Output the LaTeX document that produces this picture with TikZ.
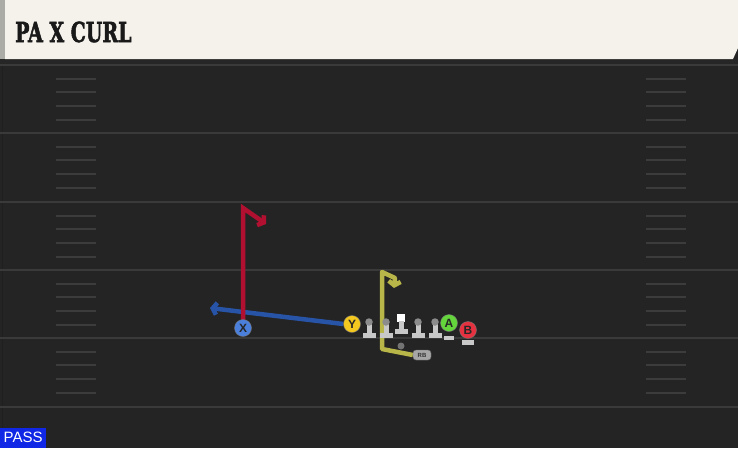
\documentclass[tikz,border=0pt]{standalone}
\usepackage{fontspec}
\setmainfont{Liberation Sans}
\newfontfamily\playfont{DejaVu Serif}[BoldFeatures={FakeBold=2.5}]
\usetikzlibrary{arrows.meta, positioning, backgrounds}
\definecolor{fieldbg}{RGB}{36,36,36}
\definecolor{yardgray}{RGB}{58,58,58}
\definecolor{hashgray}{RGB}{60,60,60}
\definecolor{titlecream}{RGB}{245,242,235}
\definecolor{titleedge}{RGB}{172,172,166}
\definecolor{routered}{RGB}{178,16,48}
\definecolor{routeblue}{RGB}{40,84,168}
\definecolor{routeyellow}{RGB}{184,182,72}
\definecolor{iconblue}{RGB}{74,128,220}
\definecolor{iconyellow}{RGB}{244,200,30}
\definecolor{icongreen}{RGB}{100,214,60}
\definecolor{iconred}{RGB}{230,50,64}
\definecolor{olhead}{RGB}{140,140,140}
\definecolor{olbody}{RGB}{200,200,200}
\definecolor{passblue}{RGB}{16,40,230}
\pgfdeclarelayer{routes}
\pgfsetlayers{background,routes,main}

\begin{document}
\begin{tikzpicture}[
    x=1pt, y=-1pt,
    yardline/.style={draw=yardgray, line width=2pt},
    hash/.style={draw=hashgray, line width=1.5pt},
    route/.style={line width=4.5pt, -{Straight Barb[length=4pt, width=12pt]}},
    player/.style={circle, draw=black!55, thin, minimum size=17pt, inner sep=0pt, text=black!85, font=\fontsize{12}{12}\selectfont\bfseries},
    olhead/.style={circle, fill=olhead, minimum size=7.5pt, inner sep=0pt},
    centerbox/.style={fill=white, minimum size=8.5pt, inner sep=0pt},
    rbbox/.style={fill=black!35, draw=black!60, rounded corners=3pt, minimum width=18pt, minimum height=10pt, inner sep=0pt, font=\fontsize{6}{6}\selectfont\bfseries, text=black!80},
    passbox/.style={fill=passblue, text=white, minimum width=46pt, minimum height=20pt, inner sep=0pt, font=\fontsize{15}{15}\selectfont}
]
\useasboundingbox (0,0) rectangle (738,448);

% Field
\begin{pgfonlayer}{background}
\fill[fieldbg] (0,0) rectangle (738,448);
\draw[black!15!fieldbg, line width=1pt] (2,64) -- (2,448);
\foreach \yl in {65,133,202,270,338,407}
    \draw[yardline] (0,\yl) -- (738,\yl);
\foreach \yl in {65,133,202,270,338}
    \foreach \dy in {14,27,41,55} {
        \draw[hash] (56,\yl+\dy) -- (96,\yl+\dy);
        \draw[hash] (646,\yl+\dy) -- (686,\yl+\dy);
    }

% Title bar
\fill[black!85] (0,58) rectangle (738,64);
\fill[titleedge] (0,0) rectangle (5,59);
\fill[titlecream] (5,0) -- (738,0) -- (738,48) -- (733,59) -- (5,59) -- cycle;
\end{pgfonlayer}
\node[anchor=base west, inner sep=0pt, text=black!90] (title) at (15,42)
    {\scalebox{0.69}[1]{\playfont\fontsize{27.5}{27.5}\selectfont\bfseries PA X CURL}};

% Players
\node[player, fill=iconblue] (x) at (243,328) {X};
\node[player, fill=iconyellow] (y) at (352,324) {Y};
\node[player, fill=icongreen] (a) at (449,323) {A};
\node[player, fill=iconred] (b) at (468,330) {B};
\node[centerbox] (c) at (401,318) {};
\node[circle, fill=black!55, minimum size=7pt, inner sep=0pt] (qb) at (401,346) {};
\node[rbbox] (rb) at (422,355) {RB};

% Route breaks
\coordinate (xstem) at (243,208);
\coordinate (xbreak) at (266,224);
\coordinate (yend) at (210,308);
\coordinate (rbflat) at (382,349);
\coordinate (rbstem) at (382,272);
\coordinate (rbhook) at (395,278);
\coordinate (rbcurl) at (394,288);

% Routes
\begin{pgfonlayer}{routes}
\draw[route, routeblue] (y.west) -- (yend);
\draw[route, routered] (x.center) -- (xstem) -- (xbreak);
\draw[route, routeyellow, line join=round] (rb.west) -- (rbflat) -- (rbstem) -- (rbhook) -- (rbcurl);
\end{pgfonlayer}

% Offensive line
\foreach \ox [count=\i] in {369,386,418,435} {
    \fill[olbody] (\ox-2.5,323) rectangle (\ox+2.5,334);
    \fill[olbody] (\ox-6.5,333) rectangle (\ox+6.5,338);
    \node[olhead] (ol\i) at (\ox,322) {};
}
\fill[olbody] (c.center) ++(-2.5,3) rectangle ++(5,8);
\fill[olbody] (c.center) ++(-6.5,11) rectangle ++(13,5);
\fill[olbody] (a.south) ++(-5,4) rectangle ++(10,4);
\fill[olbody] (b.south) ++(-6,1) rectangle ++(12,5);

% Play type
\node[passbox, anchor=south west] (mode) at (0,448) {PASS};

\end{tikzpicture}
\end{document}
